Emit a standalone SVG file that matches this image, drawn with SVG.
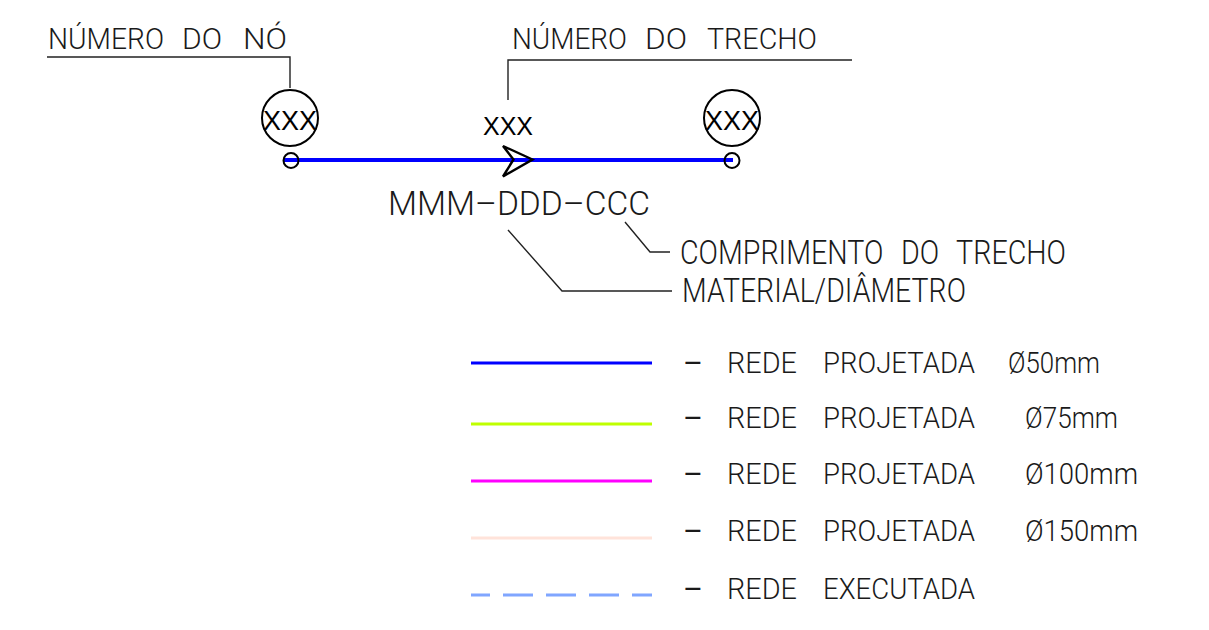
<svg xmlns="http://www.w3.org/2000/svg" width="1209" height="630" viewBox="0 0 1209 630">
<style>
.cad{font-family:Roboto,"DejaVu Sans Condensed","Liberation Sans",sans-serif;font-weight:300;fill:#1a1a1a;}
.t29{font-size:29.5px;}
.t32{font-size:32.5px;}
.t28{font-size:29px;}
.dash{font-weight:400;}
.sans{font-family:"Liberation Sans",Arial,sans-serif;fill:#000;}
.ld{fill:none;stroke:#222;stroke-width:1.4;}
.node{fill:none;stroke:#000;stroke-width:2;}
.leg{fill:none;stroke-width:3;}
</style>
<rect width="1209" height="630" fill="#fff"/>

<g id="connectors">
  <line id="pipe" x1="283" y1="160" x2="733" y2="160" stroke="#0000ff" stroke-width="4"/>
  <polygon id="flow-arrow" points="503,146 532.5,159.5 503,176.5 513.5,159.5" fill="none" stroke="#000" stroke-width="2.4" stroke-linejoin="miter"/>
  <polyline id="leader-no" class="ld" points="47,57 290,57 290,88"/>
  <polyline id="leader-trecho" class="ld" points="852,60 508,60 508,100"/>
  <polyline id="leader-material" class="ld" points="508,230 562,291 672,291"/>
  <polyline id="leader-comprimento" class="ld" points="625,222 650,252 670,252"/>
</g>

<g id="node-1">
  <circle class="node" cx="290" cy="118" r="28"/>
  <circle class="node" cx="291" cy="160.5" r="7.5"/>
  <text class="sans" x="290" y="130" font-size="27" text-anchor="middle" textLength="54" lengthAdjust="spacingAndGlyphs">XXX</text>
</g>

<g id="node-2">
  <circle class="node" cx="732" cy="118" r="28"/>
  <circle class="node" cx="732" cy="160.5" r="7.5"/>
  <text class="sans" x="732" y="130" font-size="27" text-anchor="middle" textLength="54" lengthAdjust="spacingAndGlyphs">XXX</text>
</g>

<g id="segment-label">
  <text class="sans" x="483" y="135" font-size="26" textLength="50" lengthAdjust="spacingAndGlyphs">XXX</text>
</g>

<g id="labels">
  <text class="cad t29" y="49"><tspan x="48" textLength="116" lengthAdjust="spacingAndGlyphs">NÚMERO</tspan> <tspan x="182" textLength="40" lengthAdjust="spacingAndGlyphs">DO</tspan> <tspan x="243" textLength="44" lengthAdjust="spacingAndGlyphs">NÓ</tspan></text>
  <text class="cad t29" y="49"><tspan x="512" textLength="115" lengthAdjust="spacingAndGlyphs">NÚMERO</tspan> <tspan x="645" textLength="42" lengthAdjust="spacingAndGlyphs">DO</tspan> <tspan x="707" textLength="110" lengthAdjust="spacingAndGlyphs">TRECHO</tspan></text>
  <text class="cad t32" x="388" y="215" textLength="262" lengthAdjust="spacingAndGlyphs">MMM–DDD–CCC</text>
  <text class="cad t32" x="680" y="264" word-spacing="12" textLength="386" lengthAdjust="spacingAndGlyphs">COMPRIMENTO DO TRECHO</text>
  <text class="cad t32" y="302" x="682" textLength="284" lengthAdjust="spacingAndGlyphs">MATERIAL/DIÂMETRO</text>
</g>

<g id="legend">
  <line class="leg" x1="471" y1="363" x2="652" y2="363" stroke="#0000ff"/>
  <line class="leg" x1="471" y1="424" x2="652" y2="424" stroke="#bfff00"/>
  <line class="leg" x1="471" y1="481" x2="652" y2="481" stroke="#ff00ff"/>
  <line class="leg" x1="471" y1="538" x2="652" y2="538" stroke="#ffe3da"/>
  <line class="leg" x1="471" y1="595" x2="652" y2="595" stroke="#80a6ff" stroke-dasharray="30 13" stroke-dashoffset="11"/>
  <text class="cad t28" y="373"><tspan class="dash" x="683" textLength="20" lengthAdjust="spacingAndGlyphs">–</tspan> <tspan x="727" textLength="70" lengthAdjust="spacingAndGlyphs">REDE</tspan> <tspan x="823" textLength="152" lengthAdjust="spacingAndGlyphs">PROJETADA</tspan> <tspan x="1008" textLength="92" lengthAdjust="spacingAndGlyphs">Ø50mm</tspan></text>
  <text class="cad t28" y="428"><tspan class="dash" x="683" textLength="20" lengthAdjust="spacingAndGlyphs">–</tspan> <tspan x="727" textLength="70" lengthAdjust="spacingAndGlyphs">REDE</tspan> <tspan x="823" textLength="152" lengthAdjust="spacingAndGlyphs">PROJETADA</tspan> <tspan x="1025" textLength="93" lengthAdjust="spacingAndGlyphs">Ø75mm</tspan></text>
  <text class="cad t28" y="484"><tspan class="dash" x="683" textLength="20" lengthAdjust="spacingAndGlyphs">–</tspan> <tspan x="727" textLength="70" lengthAdjust="spacingAndGlyphs">REDE</tspan> <tspan x="823" textLength="152" lengthAdjust="spacingAndGlyphs">PROJETADA</tspan> <tspan x="1025" textLength="113" lengthAdjust="spacingAndGlyphs">Ø100mm</tspan></text>
  <text class="cad t28" y="541"><tspan class="dash" x="683" textLength="20" lengthAdjust="spacingAndGlyphs">–</tspan> <tspan x="727" textLength="70" lengthAdjust="spacingAndGlyphs">REDE</tspan> <tspan x="823" textLength="152" lengthAdjust="spacingAndGlyphs">PROJETADA</tspan> <tspan x="1025" textLength="113" lengthAdjust="spacingAndGlyphs">Ø150mm</tspan></text>
  <text class="cad t28" y="599"><tspan class="dash" x="683" textLength="20" lengthAdjust="spacingAndGlyphs">–</tspan> <tspan x="727" textLength="70" lengthAdjust="spacingAndGlyphs">REDE</tspan> <tspan x="823" textLength="152" lengthAdjust="spacingAndGlyphs">EXECUTADA</tspan></text>
</g>
</svg>
